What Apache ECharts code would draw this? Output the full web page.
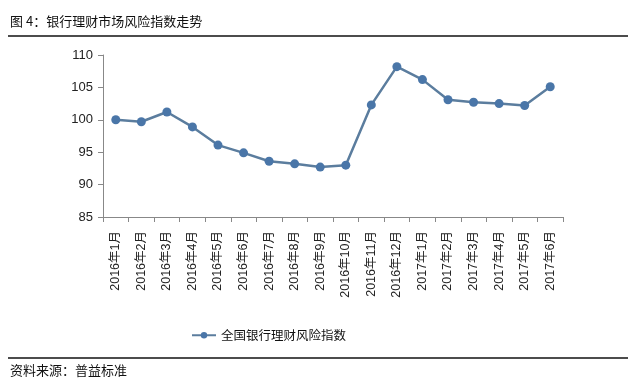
<!DOCTYPE html>
<html><head><meta charset="utf-8">
<script src="https://cdn.jsdelivr.net/npm/echarts@6/dist/echarts.min.js"></script>
<style>html,body{margin:0;padding:0;background:#fff}#c{width:635px;height:388px}</style>
</head><body><div id="c"></div>
<script>
const categories = ['2016年1月','2016年2月','2016年3月','2016年4月','2016年5月','2016年6月','2016年7月','2016年8月','2016年9月','2016年10月','2016年11月','2016年12月','2017年1月','2017年2月','2017年3月','2017年4月','2017年5月','2017年6月'];
const riskIndex = [100.0, 99.7, 101.2, 98.9, 96.1, 94.9, 93.6, 93.2, 92.7, 93.0, 102.3, 108.2, 106.2, 103.1, 102.7, 102.5, 102.2, 105.1];
const yTicks = {min: 85, max: 110, interval: 5};
const seriesName = '全国银行理财风险指数';
const titleText = '图 4：银行理财市场风险指数走势';
const sourceText = '资料来源：普益标准';

const font = '"Noto Sans CJK SC", "Noto Sans", sans-serif';
const axisFont = '"Liberation Sans", "Noto Sans CJK SC", sans-serif';
const chart = echarts.init(document.getElementById('c'));
chart.setOption({
  animation: false,
  textStyle: {fontFamily: font},
  grid: {left: 103, right: 72, top: 55, bottom: 171},
  legend: {
    data: [seriesName], left: 186, top: 324, itemWidth: 24, itemHeight: 8, itemGap: 4,
    textStyle: {fontSize: 12.5, color: '#111', fontFamily: font}
  },
  xAxis: {
    type: 'category', data: categories, boundaryGap: true,
    axisLine: {lineStyle: {color: '#888'}},
    axisTick: {show: true, alignWithLabel: false, length: 5, lineStyle: {color: '#888'}},
    axisLabel: {rotate: 90, fontSize: 12.5, color: '#222', interval: 0, margin: 14, fontFamily: axisFont}
  },
  yAxis: {
    type: 'value', min: yTicks.min, max: yTicks.max, interval: yTicks.interval,
    axisLine: {show: true, lineStyle: {color: '#888'}},
    axisTick: {show: true, length: 5, lineStyle: {color: '#888'}},
    splitLine: {show: false},
    axisLabel: {fontSize: 13, color: '#222', margin: 10, fontFamily: axisFont}
  },
  series: [{
    name: seriesName, type: 'line', data: riskIndex,
    symbol: 'circle', symbolSize: 9,
    lineStyle: {color: '#5b7d9e', width: 2.5},
    itemStyle: {color: '#4a76a8'}
  }],
  graphic: [
    {type: 'text', left: 10, top: 15, style: {text: titleText, fontSize: 13, fill: '#111', fontFamily: font}},
    {type: 'line', shape: {x1: 8, y1: 36, x2: 628, y2: 36}, style: {stroke: '#111', lineWidth: 1.5}},
    {type: 'line', shape: {x1: 8, y1: 358, x2: 628, y2: 358}, style: {stroke: '#111', lineWidth: 1.5}},
    {type: 'text', left: 10, top: 364, style: {text: sourceText, fontSize: 13, fill: '#111', fontFamily: font}}
  ]
});
</script></body></html>
